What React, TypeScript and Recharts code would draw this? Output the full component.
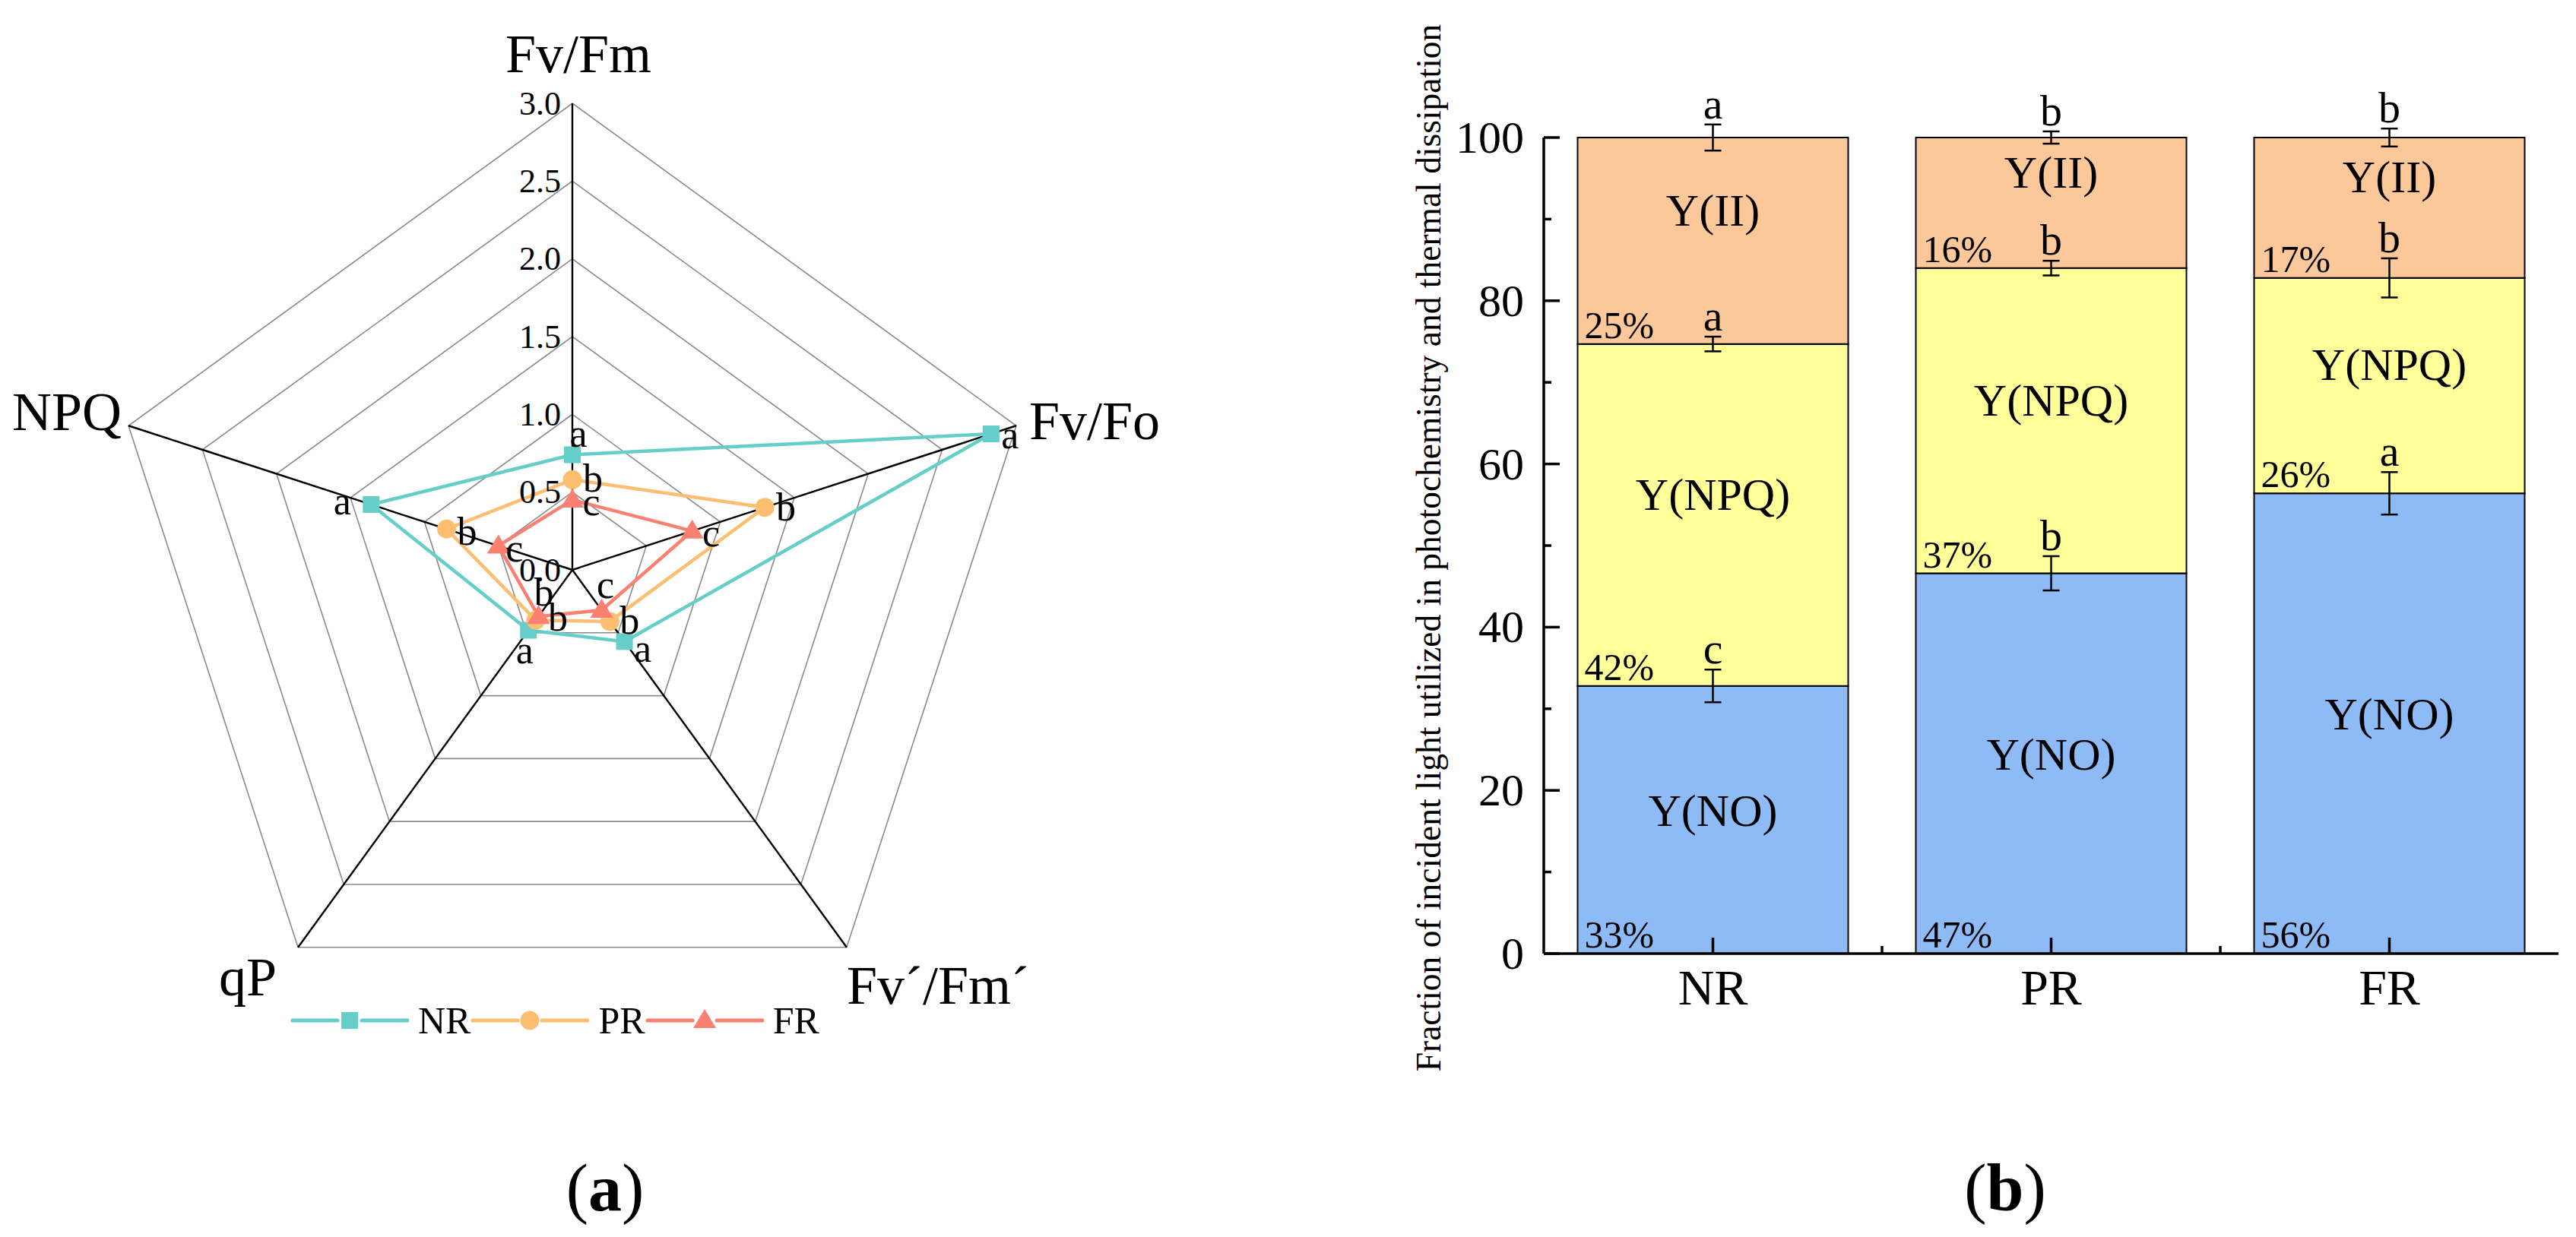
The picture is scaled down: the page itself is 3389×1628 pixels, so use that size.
import React from 'react';
import {
  RadarChart, Radar, PolarGrid, PolarAngleAxis, PolarRadiusAxis, Legend,
  BarChart, Bar, XAxis, YAxis, LabelList,
} from 'recharts';

const FONT = "'Liberation Serif', 'Times New Roman', serif";

// ---- (a) radar data ----
const radarAxes = ['Fv/Fm', 'Fv/Fo', 'Fv\u00b4/Fm\u00b4', 'qP', 'NPQ'];
const nrValues = [0.74, 2.83, 0.57, 0.48, 1.36];
const prValues = [0.58, 1.30, 0.41, 0.40, 0.85];
const frValues = [0.45, 0.81, 0.32, 0.37, 0.50];
const nrLetters = ['a', 'a', 'a', 'a', 'a'];
const prLetters = ['b', 'b', 'b', 'b', 'b'];
const frLetters = ['c', 'c', 'c', 'b', 'c'];
const radarTicks = [0, 0.5, 1, 1.5, 2, 2.5, 3];

// ---- (b) stacked bar data ----
const groups = ['NR', 'PR', 'FR'];
const yNO = [32.8, 46.6, 56.4];
const yNPQ = [41.9, 37.4, 26.4];
const yII = [25.3, 16.0, 17.2];
const errNO = [2.0, 2.1, 2.6];
const errNPQ = [0.9, 0.9, 2.4];
const errII = [1.6, 0.75, 1.1];
const sigNO = ['c', 'b', 'a'];
const sigNPQ = ['a', 'b', 'b'];
const sigII = ['a', 'b', 'b'];
const yTicks = [0, 10, 20, 30, 40, 50, 60, 70, 80, 90, 100];

const radarData = radarAxes.map((axis, i) => ({ axis, NR: nrValues[i], PR: prValues[i], FR: frValues[i] }));
const barData = groups.map((group, i) => ({ group, no: yNO[i], npq: yNPQ[i], ii: yII[i] }));

const radarSeries = [
  { key: 'NR', color: '#66CEC8', shape: 'square', letters: nrLetters },
  { key: 'PR', color: '#FEBE72', shape: 'circle', letters: prLetters },
  { key: 'FR', color: '#FA8072', shape: 'triangle', letters: frLetters },
];

// letter placement around each marker [dx, dy] (letter centre)
const letterOffsets = [
  [[8, -25], [25, 5], [24, 13], [-5, 30], [-38, -1]],
  [[27, 2], [28, 3], [26, 2], [29, 0], [27, 7]],
  [[25, 6], [25, 6], [5, -30], [7, -28], [21, 7]],
];

// axis title placement relative to the outer vertex
const axisLabelPos = [
  { anchor: 'middle', dx: 8, dy: -41 },
  { anchor: 'start', dx: 17, dy: 18 },
  { anchor: 'start', dx: 0, dy: 74 },
  { anchor: 'end', dx: -28, dy: 63 },
  { anchor: 'end', dx: -9, dy: 6 },
];

const Marker = ({ shape, x, y, color }: any) => {
  if (shape === 'square') return <rect x={x - 11} y={y - 11} width={22} height={22} fill={color} />;
  if (shape === 'circle') return <circle cx={x} cy={y} r={12.5} fill={color} />;
  return <path d={`M${x},${y - 15} L${x + 15},${y + 10} L${x - 15},${y + 10} Z`} fill={color} />;
};

const makeDot = (s: any, si: number) => (props: any) => {
  const { cx, cy, index } = props;
  const [dx, dy] = letterOffsets[si][index];
  return (
    <g key={`${s.key}-dot-${index}`}>
      <Marker shape={s.shape} x={cx} y={cy} color={s.color} />
      <text x={cx + dx} y={cy + dy + 14} textAnchor="middle" fontSize={52} fontFamily={FONT} fill="#000">
        {s.letters[index]}
      </text>
    </g>
  );
};

const AngleTick = (props: any) => {
  const { x, y, payload, index } = props;
  const th = (payload.coordinate * Math.PI) / 180;
  const vx = x - 8 * Math.cos(th);
  const vy = y + 8 * Math.sin(th);
  const p = axisLabelPos[index];
  return (
    <text x={vx + p.dx} y={vy + p.dy} textAnchor={p.anchor} fontSize={72} fontFamily={FONT} fill="#000">
      {payload.value}
    </text>
  );
};

const RadiusTick = (props: any) => {
  const { x, y, payload } = props;
  return (
    <text x={x - 15} y={y} textAnchor="end" dominantBaseline="central" fontSize={44} fontFamily={FONT} fill="#000">
      {Number(payload.value).toFixed(1)}
    </text>
  );
};

const renderRadarLegend = () => (
  <div style={{ display: 'flex', alignItems: 'center', fontFamily: FONT, fontSize: 50, color: '#000' }}>
    {radarSeries.map((s) => (
      <div key={s.key} style={{ display: 'flex', alignItems: 'center' }}>
        <svg width={156} height={40}>
          <line x1={3} y1={20} x2={62} y2={20} stroke={s.color} strokeWidth={5} strokeLinecap="round" />
          <line x1={94} y1={20} x2={154} y2={20} stroke={s.color} strokeWidth={5} strokeLinecap="round" />
          <Marker shape={s.shape} x={78} y={20} color={s.color} />
        </svg>
        <span style={{ marginLeft: 12, lineHeight: 1 }}>{s.key}</span>
      </div>
    ))}
  </div>
);

const YTick = (props: any) => {
  const { x, y, payload } = props;
  const major = payload.value % 20 === 0;
  return (
    <g>
      <line x1={x} y1={y} x2={x + (major ? 21 : 10)} y2={y} stroke="#000" strokeWidth={3.5} />
      {major && (
        <text x={x - 26} y={y} textAnchor="end" dominantBaseline="central" fontSize={60} fontFamily={FONT} fill="#000">
          {payload.value}
        </text>
      )}
    </g>
  );
};

const XTick = (props: any) => {
  const { x, y, payload, index } = props;
  const half = payload && payload.offset ? payload.offset : 0;
  return (
    <g>
      <line x1={x} y1={y} x2={x} y2={y - 21} stroke="#000" strokeWidth={3.5} />
      {index > 0 && half > 0 && <line x1={x - half} y1={y} x2={x - half} y2={y - 10} stroke="#000" strokeWidth={3.5} />}
      <text x={x} y={y + 44} textAnchor="middle" dominantBaseline="central" fontSize={66} fontFamily={FONT} fill="#000">
        {payload.value}
      </text>
    </g>
  );
};

const segmentLabel = (name: string, values: number[], shift: number) => (props: any) => {
  const vb = props.viewBox || props;
  const { x, y, width, height } = vb;
  const i = props.index;
  return (
    <g key={`${name}-${i}`} fontFamily={FONT} fill="#000">
      <text x={x + width / 2} y={y + height / 2 - shift} textAnchor="middle" dominantBaseline="central" fontSize={60}>
        {name}
      </text>
      <text x={x + 9} y={y + height - 8} fontSize={50}>{Math.round(values[i])}%</text>
    </g>
  );
};

// error bars + significance letters for all three segments, drawn from the top segment's geometry
const renderErrors = (props: any) => {
  const vb = props.viewBox || props;
  const { x, y, width, height } = vb;
  const i = props.index;
  const unit = height / yII[i];
  const cx = x + width / 2;
  const segs = [
    { top: y + height + yNPQ[i] * unit, err: errNO[i], sig: sigNO[i] },
    { top: y + height, err: errNPQ[i], sig: sigNPQ[i] },
    { top: y, err: errII[i], sig: sigII[i] },
  ];
  return (
    <g key={`err-${i}`}>
      {segs.map((s, k) => {
        const e = s.err * unit;
        return (
          <g key={k} stroke="#000" strokeWidth={2.5}>
            <line x1={cx} y1={s.top - e} x2={cx} y2={s.top + e} />
            <line x1={cx - 11} y1={s.top - e} x2={cx + 11} y2={s.top - e} />
            <line x1={cx - 11} y1={s.top + e} x2={cx + 11} y2={s.top + e} />
            <text x={cx} y={s.top - e - 8} textAnchor="middle" fontSize={58} fontFamily={FONT} fill="#000" stroke="none">
              {s.sig}
            </text>
          </g>
        );
      })}
    </g>
  );
};

const renderYLabel = (props: any) => {
  const vb = props.viewBox || {};
  const x = vb.x + 79;
  const y = vb.y + vb.height / 2 + 3;
  return (
    <text x={x} y={y} transform={`rotate(-90, ${x}, ${y})`} textAnchor="middle" dominantBaseline="central"
      fontSize={45.5} fontFamily={FONT} fill="#000">
      Fraction of incident light utilized in photochemistry and thermal dissipation
    </text>
  );
};

export default function App() {
  return (
    <div style={{ position: 'absolute', left: 0, top: 0, width: 3389, height: 1628, background: '#fff', fontFamily: FONT }}>
      <div style={{ position: 'absolute', left: 0, top: 0 }}>
        <RadarChart width={1790} height={1628} cx={753} cy={750} outerRadius={614} data={radarData}
          margin={{ top: 0, right: 0, bottom: 0, left: 0 }}>
          <PolarGrid gridType="polygon" radialLines={false} stroke="#8a8a8a" strokeWidth={1.6} />
          <PolarGrid gridType="polygon" polarRadius={[]} stroke="#000" strokeWidth={2.4} />
          <PolarAngleAxis dataKey="axis" tick={AngleTick} tickLine={false} axisLine={false} />
          <PolarRadiusAxis angle={90} domain={[0, 3]} ticks={radarTicks} tickCount={7} axisLine={false}
            tickLine={false} tick={RadiusTick} />
          {radarSeries.map((s, si) => (
            <Radar key={s.key} name={s.key} dataKey={s.key} stroke={s.color} strokeWidth={4.5}
              fill="none" fillOpacity={0} dot={makeDot(s, si)} isAnimationActive={false} />
          ))}
          <Legend content={renderRadarLegend} wrapperStyle={{ left: 382, top: 1318, width: 760 }} />
        </RadarChart>
      </div>
      <div style={{ position: 'absolute', left: 1800, top: 0 }}>
        <BarChart width={1589} height={1628} data={barData} barCategoryGap="10%"
          margin={{ top: 181, right: 23, bottom: 273, left: 0 }}>
          <XAxis dataKey="group" height={100} tickSize={0} tickMargin={0} tickLine={false}
            axisLine={{ stroke: '#000', strokeWidth: 3.5 }} tick={XTick} interval={0} />
          <YAxis width={231} domain={[0, 100]} ticks={yTicks} interval={0} tickSize={0} tickMargin={0}
            tickLine={false} axisLine={{ stroke: '#000', strokeWidth: 3.5 }} tick={YTick}
            label={{ content: renderYLabel }} />
          <Bar dataKey="no" stackId="s" fill="#8EBBF5" stroke="#000" strokeWidth={2} isAnimationActive={false}>
            <LabelList dataKey="no" content={segmentLabel('Y(NO)', yNO, 12)} />
          </Bar>
          <Bar dataKey="npq" stackId="s" fill="#FFFF99" stroke="#000" strokeWidth={2} isAnimationActive={false}>
            <LabelList dataKey="npq" content={segmentLabel('Y(NPQ)', yNPQ, 27)} />
          </Bar>
          <Bar dataKey="ii" stackId="s" fill="#FDC899" stroke="#000" strokeWidth={2} isAnimationActive={false}>
            <LabelList dataKey="ii" content={segmentLabel('Y(II)', yII, 40)} />
            <LabelList dataKey="ii" content={renderErrors} />
          </Bar>
        </BarChart>
      </div>
      <svg width={3389} height={1628} style={{ position: 'absolute', left: 0, top: 0, pointerEvents: 'none' }}>
        <text x={796} y={1593} textAnchor="middle" fontSize={88} fontFamily={FONT} fill="#000">
          (<tspan fontWeight="bold">a</tspan>)
        </text>
        <text x={2638} y={1593} textAnchor="middle" fontSize={88} fontFamily={FONT} fill="#000">
          (<tspan fontWeight="bold">b</tspan>)
        </text>
      </svg>
    </div>
  );
}
